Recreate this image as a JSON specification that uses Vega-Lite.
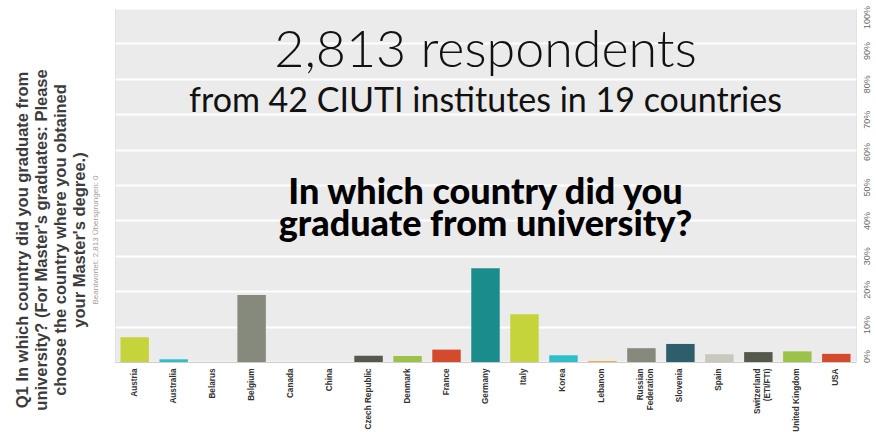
{
  "$schema": "https://vega.github.io/schema/vega-lite/v6.json",
  "width": 741,
  "height": 354,
  "autosize": "none",
  "padding": {"left": 115, "top": 8, "right": 20, "bottom": 70},
  "background": "#ffffff",
  "config": {
    "view": {"fill": "#ebebeb", "stroke": "#e2e2e2", "strokeWidth": 1}
  },
  "title": {
    "text": ["Q1 In which country did you graduate from", "university? (For Master's graduates: Please", "choose the country where you obtained", "your Master's degree.)"],
    "orient": "left",
    "anchor": "middle",
    "font": "Liberation Sans",
    "fontSize": 16.5,
    "fontWeight": "bold",
    "color": "#3c3c3c",
    "lineHeight": 19,
    "offset": 15,
    "dx": -55,
    "subtitle": "Beantwortet: 2,813        Übersprungen: 0",
    "subtitleFont": "Liberation Sans",
    "subtitleFontSize": 8,
    "subtitleColor": "#a0a0a0",
    "subtitlePadding": 4
  },
  "resolve": {"axis": {"y": "independent"}},
  "datasets": {
    "countries": [
      {"country": "Austria", "share": 0.070},
      {"country": "Australia", "share": 0.0076},
      {"country": "Belarus", "share": 0.0},
      {"country": "Belgium", "share": 0.189},
      {"country": "Canada", "share": 0.0},
      {"country": "China", "share": 0.0},
      {"country": "Czech Republic", "share": 0.018},
      {"country": "Denmark", "share": 0.017},
      {"country": "France", "share": 0.035},
      {"country": "Germany", "share": 0.265},
      {"country": "Italy", "share": 0.135},
      {"country": "Korea", "share": 0.019},
      {"country": "Lebanon", "share": 0.003},
      {"country": "Russian Federation", "share": 0.039},
      {"country": "Slovenia", "share": 0.051},
      {"country": "Spain", "share": 0.022},
      {"country": "Switzerland (ETI/FTI)", "share": 0.028},
      {"country": "United Kingdom", "share": 0.030},
      {"country": "USA", "share": 0.023}
    ],
    "headline": [{"text": "2,813 respondents"}],
    "subhead": [{"text": "from 42 CIUTI institutes in 19 countries"}],
    "question": [{"text": "In which country did you\ngraduate from university?"}]
  },
  "layer": [
    {
      "data": {"name": "countries"},
      "mark": {"type": "bar"},
      "encoding": {
        "x": {
          "field": "country",
          "type": "nominal",
          "sort": null,
          "scale": {"paddingInner": 0.27, "paddingOuter": 0.14},
          "axis": {
            "title": null,
            "orient": "bottom",
            "labelAngle": -90,
            "labelAlign": "right",
            "labelBaseline": "middle",
            "labelFont": "Liberation Sans",
            "labelFontSize": 8.2,
            "labelFontWeight": "bold",
            "labelColor": "#333333",
            "labelPadding": 6,
            "labelLineHeight": 10,
            "labelOverlap": false,
            "labelExpr": "datum.label == 'Russian Federation' ? ['Russian', 'Federation'] : datum.label == 'Switzerland (ETI/FTI)' ? ['Switzerland', '(ETI/FTI)'] : datum.label",
            "ticks": false,
            "domain": true,
            "domainColor": "#cccccc",
            "domainWidth": 1,
            "grid": false
          }
        },
        "y": {
          "field": "share",
          "type": "quantitative",
          "scale": {"domain": [0, 1], "nice": false},
          "axis": {
            "title": null,
            "orient": "right",
            "values": [0, 0.1, 0.2, 0.3, 0.4, 0.5, 0.6, 0.7, 0.8, 0.9, 1],
            "format": ".0%",
            "labelAngle": -90,
            "labelAlign": "center",
            "labelBaseline": "top",
            "labelFont": "Liberation Sans",
            "labelFontSize": 9,
            "labelColor": "#6a6a6a",
            "labelPadding": 6,
            "labelOverlap": false,
            "labelBound": false,
            "labelOffset": {
              "condition": [
                {"test": "datum.value >= 0.95", "value": 9},
                {"test": "datum.value >= 0.85", "value": 7},
                {"test": "datum.value >= 0.65", "value": 5},
                {"test": "datum.value >= 0.45", "value": 2},
                {"test": "datum.value >= 0.25", "value": 0},
                {"test": "datum.value >= 0.05", "value": -2}
              ],
              "value": -6
            },
            "ticks": false,
            "domain": false,
            "grid": true,
            "gridColor": "#ffffff",
            "gridWidth": 2
          }
        },
        "color": {
          "field": "country",
          "type": "nominal",
          "legend": null,
          "scale": {
            "domain": ["Austria", "Australia", "Belarus", "Belgium", "Canada", "China", "Czech Republic", "Denmark", "France", "Germany", "Italy", "Korea", "Lebanon", "Russian Federation", "Slovenia", "Spain", "Switzerland (ETI/FTI)", "United Kingdom", "USA"],
            "range": ["#c5d43a", "#2cbfc8", "#f0b050", "#868a7d", "#2e5e6c", "#c8c9bc", "#55594b", "#9cc24a", "#d34a2c", "#1b8c8c", "#c5d43a", "#2cbfc8", "#f0b050", "#868a7d", "#2e5e6c", "#c8c9bc", "#55594b", "#9cc24a", "#d34a2c"]
          }
        }
      }
    },
    {
      "data": {"name": "headline"},
      "mark": {"type": "text", "font": "Lato", "fontWeight": 300, "fontSize": 52, "color": "#111111", "align": "center", "baseline": "alphabetic"},
      "encoding": {
        "y": {"datum": 0.833, "type": "quantitative", "axis": null},
        "text": {"field": "text"}
      }
    },
    {
      "data": {"name": "subhead"},
      "mark": {"type": "text", "font": "Lato", "fontWeight": 400, "fontSize": 34, "color": "#111111", "align": "center", "baseline": "alphabetic"},
      "encoding": {
        "y": {"datum": 0.705, "type": "quantitative", "axis": null},
        "text": {"field": "text"}
      }
    },
    {
      "data": {"name": "question"},
      "mark": {"type": "text", "font": "Lato", "fontWeight": 900, "fontSize": 36, "color": "#000000", "align": "center", "baseline": "alphabetic", "lineBreak": "\n", "lineHeight": 32},
      "encoding": {
        "y": {"datum": 0.445, "type": "quantitative", "axis": null},
        "text": {"field": "text"}
      }
    }
  ]
}
